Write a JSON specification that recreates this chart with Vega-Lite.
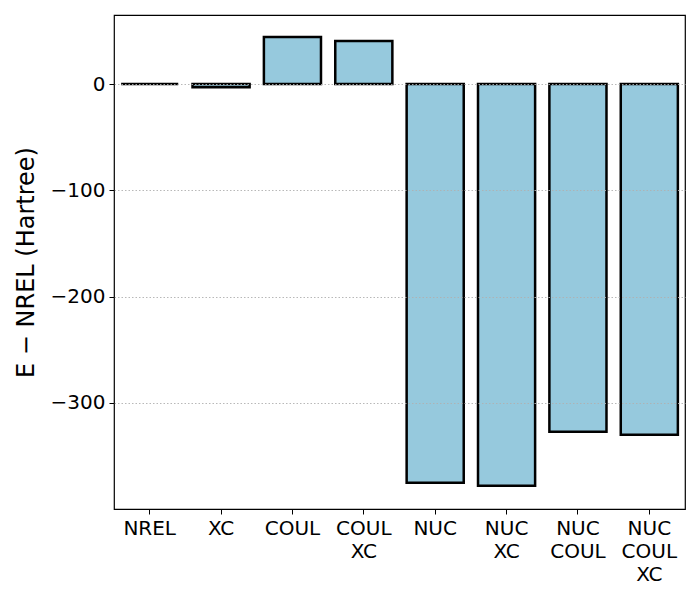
{
  "$schema": "https://vega.github.io/schema/vega-lite/v6.json",
  "autosize": "none",
  "width": 571,
  "height": 494,
  "padding": {"left": 114, "top": 15, "right": 15, "bottom": 91},
  "background": "white",
  "config": {
    "font": "DejaVu Sans",
    "view": {"stroke": "black", "strokeWidth": 1.2}
  },
  "data": {
    "values": [
      {"term": "NREL", "energy": 0},
      {"term": "XC", "energy": -3},
      {"term": "COUL", "energy": 44.2},
      {"term": "COUL XC", "energy": 40.5},
      {"term": "NUC", "energy": -375.4},
      {"term": "NUC XC", "energy": -378.2},
      {"term": "NUC COUL", "energy": -327.4},
      {"term": "NUC COUL XC", "energy": -330.2}
    ]
  },
  "mark": {"type": "bar", "fill": "#96c9dd", "stroke": "black", "strokeWidth": 2.5},
  "encoding": {
    "x": {
      "field": "term",
      "type": "nominal",
      "sort": null,
      "scale": {"paddingInner": 0.2, "paddingOuter": 0.1},
      "axis": {
        "title": null,
        "labelAngle": 0,
        "labelFontSize": 20,
        "labelColor": "black",
        "labelExpr": "split(datum.label, ' ')",
        "labelLineHeight": 23,
        "labelPadding": 4,
        "tickColor": "black",
        "tickSize": 5,
        "domain": false,
        "grid": false
      }
    },
    "y": {
      "field": "energy",
      "type": "quantitative",
      "scale": {"domain": [-400, 65], "nice": false, "zero": false},
      "axis": {
        "title": "E − NREL (Hartree)",
        "titleFontSize": 24,
        "titleFontWeight": "normal",
        "titleColor": "black",
        "titlePadding": 12,
        "values": [0, -100, -200, -300],
        "labelFontSize": 20,
        "labelColor": "black",
        "labelPadding": 4,
        "tickColor": "black",
        "tickSize": 5,
        "domain": false,
        "grid": true,
        "gridColor": "#b0b0b0",
        "gridDash": [1.5, 2],
        "gridWidth": 0.9,
        "zindex": 1
      }
    }
  }
}
